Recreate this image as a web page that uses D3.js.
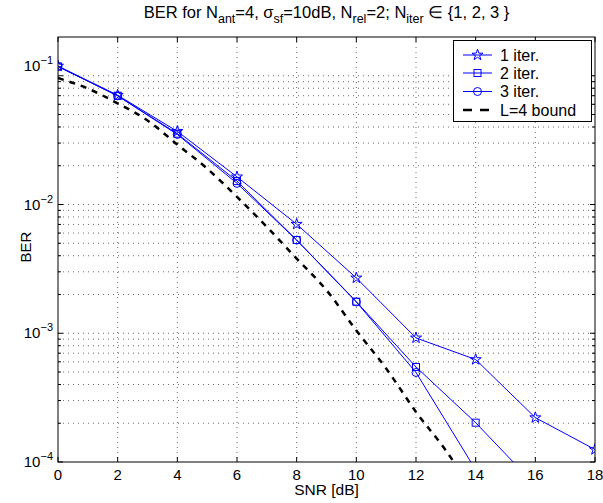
<!DOCTYPE html>
<html><head><meta charset="utf-8">
<script src="https://cdn.jsdelivr.net/npm/d3@7"></script>
<style>body{margin:0;background:#fff;} text{font-family:"Liberation Sans",Arial,sans-serif;}</style>
</head><body>
<svg id="chart" width="603" height="503"></svg>
<script>
const snr = [0, 2, 4, 6, 8, 10, 12, 14, 16, 18];
const iter1 = [0.119, 0.0706, 0.037, 0.0164, 0.00703, 0.00269, 0.00092, 0.000625, 0.000221, 0.000125];
const iter2 = [0.118, 0.0700, 0.0355, 0.0152, 0.0053, 0.00176, 0.000547, 0.000202, 0.000066];
const iter3 = [0.118, 0.0698, 0.0350, 0.0146, 0.00529, 0.00175, 0.000496, 0.000087];
const boundSnr = [0, 1, 2, 3, 4, 5, 6, 7, 8, 9, 10, 11, 12, 13, 14];
const boundBer = [0.096, 0.0796, 0.061, 0.045, 0.0292, 0.019, 0.01146, 0.0067, 0.0038, 0.00216, 0.00105, 0.000532, 0.000245, 0.000123, 0.000055];
const xTicks = [0, 2, 4, 6, 8, 10, 12, 14, 16, 18];
const yTickExps = [-1, -2, -3, -4];
const legendLabels = ["1 iter.", "2 iter.", "3 iter.", "L=4 bound"];

const svg = d3.select("#chart");
const L = 58, R = 595, T = 37, B = 462;
const x = d3.scaleLinear().domain([0, 18]).range([L, R]);
const y = d3.scaleLog().domain([1e-4, 0.2]).range([B, T]);

const yGrid = [];
for (let e = -4; e <= -1; e++) for (let m = 1; m <= 9; m++) { const v = m * Math.pow(10, e); if (v >= 1e-4 && v <= 0.2) yGrid.push(v); }
yGrid.push(0.2);

const grid = svg.append("g");
grid.selectAll("line.h").data(yGrid.filter(v => v > 1e-4 && v < 0.2)).enter().append("line")
  .attr("x1", L).attr("x2", R).attr("y1", d => y(d)).attr("y2", d => y(d))
  .attr("stroke", "#6a6a6a").attr("stroke-width", 1).attr("stroke-dasharray", "1,4");
grid.selectAll("line.v").data(xTicks.filter(v => v > 0 && v < 18)).enter().append("line")
  .attr("x1", d => x(d)).attr("x2", d => x(d)).attr("y1", T).attr("y2", B)
  .attr("stroke", "#6a6a6a").attr("stroke-width", 1).attr("stroke-dasharray", "1,4");

svg.append("clipPath").attr("id", "clip").append("rect").attr("x", L).attr("y", T).attr("width", R - L).attr("height", B - T);
const plot = svg.append("g").attr("clip-path", "url(#clip)");

const line = d3.line().x(d => x(d[0])).y(d => y(d[1]));
const series = [
  { vals: iter1, marker: "star" },
  { vals: iter2, marker: "square" },
  { vals: iter3, marker: "circle" }
];
const starPath = d3.symbol().type(d3.symbolStar).size(38)();
function drawMarker(g, type, cx, cy) {
  if (type === "star") g.append("path").attr("d", starPath).attr("transform", `translate(${cx},${cy})`).attr("fill", "none").attr("stroke", "#0000ff").attr("stroke-width", 1);
  else if (type === "square") g.append("rect").attr("x", cx - 3.5).attr("y", cy - 3.5).attr("width", 7).attr("height", 7).attr("fill", "none").attr("stroke", "#0000ff").attr("stroke-width", 1);
  else g.append("circle").attr("cx", cx).attr("cy", cy).attr("r", 4).attr("fill", "none").attr("stroke", "#0000ff").attr("stroke-width", 1);
}
series.forEach(s => {
  const pts = s.vals.map((v, i) => [snr[i], v]);
  plot.append("path").datum(pts).attr("d", line).attr("fill", "none").attr("stroke", "#0000ff").attr("stroke-width", 1);
  pts.forEach(p => drawMarker(plot, s.marker, x(p[0]), y(p[1])));
});
plot.append("path").datum(boundSnr.map((s, i) => [s, boundBer[i]]))
  .attr("d", d3.line().x(d => x(d[0])).y(d => y(d[1])).curve(d3.curveMonotoneX))
  .attr("fill", "none").attr("stroke", "#000").attr("stroke-width", 2.5).attr("stroke-dasharray", "6,6");

svg.append("rect").attr("x", L).attr("y", T).attr("width", R - L).attr("height", B - T).attr("fill", "none").attr("stroke", "#000").attr("stroke-width", 1);

const tk = svg.append("g").attr("stroke", "#000").attr("stroke-width", 1);
xTicks.forEach(v => {
  tk.append("line").attr("x1", x(v)).attr("x2", x(v)).attr("y1", B).attr("y2", B - 5);
  tk.append("line").attr("x1", x(v)).attr("x2", x(v)).attr("y1", T).attr("y2", T + 5);
});
yGrid.filter(v => v < 0.2).forEach(v => {
  const major = yTickExps.some(e => Math.abs(Math.log10(v) - e) < 1e-9);
  const len = major ? 5 : 3;
  tk.append("line").attr("x1", L).attr("x2", L + len).attr("y1", y(v)).attr("y2", y(v));
  tk.append("line").attr("x1", R).attr("x2", R - len).attr("y1", y(v)).attr("y2", y(v));
});

svg.append("g").selectAll("text").data(xTicks).enter().append("text")
  .attr("x", d => x(d)).attr("y", B + 18).attr("text-anchor", "middle").attr("font-size", 15).text(d => d);
yTickExps.forEach(e => {
  const shift = e === -1 ? -10 : 0;
  const t = svg.append("text").attr("x", 53).attr("y", y(Math.pow(10, e)) + 5 + shift).attr("text-anchor", "end").attr("font-size", 15);
  t.append("tspan").text("10");
  t.append("tspan").attr("dy", -7).attr("font-size", 11).text("\u2212" + Math.abs(e));
});

svg.append("text").attr("x", (L + R) / 2).attr("y", 495).attr("text-anchor", "middle").attr("font-size", 15.5).text("SNR [dB]");
svg.append("text").attr("transform", `translate(31,247) rotate(-90)`).attr("text-anchor", "middle").attr("font-size", 15).text("BER");

const title = svg.append("text").attr("x", (L + R) / 2).attr("y", 18).attr("text-anchor", "middle").attr("font-size", 16.5);
function sub(s) { title.append("tspan").attr("dy", 5).attr("font-size", 12.5).text(s); }
function main(s) { title.append("tspan").attr("dy", -5).attr("font-size", 16.5).text(s); }
title.append("tspan").text("BER for N");
sub("ant"); main("=4, \u03c3"); sub("sf"); main("=10dB, N"); sub("rel"); main("=2; N"); sub("iter"); main(" \u2208 {1, 2, 3 }");

const lg = svg.append("g");
lg.append("rect").attr("x", 453.5).attr("y", 40.5).attr("width", 138).attr("height", 81).attr("fill", "#fff").attr("stroke", "#000").attr("stroke-width", 1);
const rowY = [55, 73, 91.5, 110];
legendLabels.forEach((lab, i) => {
  if (i < 3) {
    lg.append("line").attr("x1", 463).attr("x2", 492).attr("y1", rowY[i]).attr("y2", rowY[i]).attr("stroke", "#0000ff").attr("stroke-width", 1);
    drawMarker(lg, series[i].marker, 477.5, rowY[i]);
  } else {
    lg.append("line").attr("x1", 463).attr("x2", 489).attr("y1", rowY[i]).attr("y2", rowY[i]).attr("stroke", "#000").attr("stroke-width", 2.5).attr("stroke-dasharray", "9,8");
  }
  lg.append("text").attr("x", 500).attr("y", rowY[i] + 5.5).attr("font-size", 16).text(lab);
});
</script>
</body></html>
